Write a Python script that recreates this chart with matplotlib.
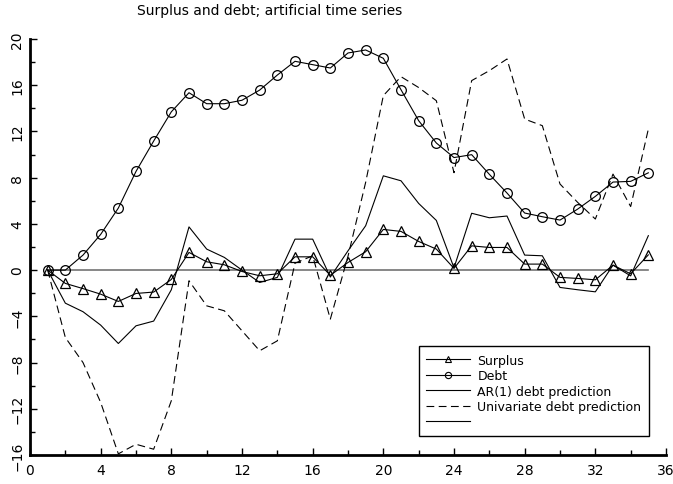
import matplotlib
matplotlib.use('Agg')
import matplotlib.pyplot as plt
from matplotlib.lines import Line2D
from matplotlib.legend_handler import HandlerLine2D
from matplotlib.ticker import MultipleLocator

# time index and series
t = list(range(1, 36))

surplus = [0, -1.15, -1.6, -2.08, -2.71, -2.02, -1.9, -0.81, 1.53, 0.72,
           0.46, -0.12, -0.49, -0.32, 1.15, 1.15, -0.45, 0.66, 1.59, 3.52,
           3.35, 2.48, 1.82, 0.15, 2.1, 1.96, 1.96, 0.52, 0.52, -0.63,
           -0.72, -0.84, 0.43, -0.32, 1.32]

debt = [0, 0, 1.3, 3.09, 5.37, 8.54, 11.17, 13.7, 15.35, 14.4,
        14.4, 14.7, 15.58, 16.88, 18.07, 17.78, 17.49, 18.79, 19.05, 18.33,
        15.61, 12.93, 11.0, 9.74, 9.99, 8.29, 6.67, 4.94, 4.62, 4.33,
        5.28, 6.38, 7.62, 7.68, 8.42]

ar1_pred = [0, -2.86, -3.6, -4.76, -6.35, -4.82, -4.41, -1.7, 3.74, 1.82,
            1.1, 0, -1.07, -0.63, 2.68, 2.68, -0.6, 1.67, 3.84, 8.16,
            7.73, 5.77, 4.3, 0.2, 4.92, 4.53, 4.68, 1.3, 1.24, -1.5,
            -1.7, -1.88, 0.43, -0.5, 2.98]

univ_pred = [0, -5.83, -8.0, -11.45, -15.9, -15.07, -15.5, -11.3, -0.92, -3.09,
             -3.52, -5.25, -6.98, -6.12, 0.6, 1.24, -4.24, 1.2, 7.6, 15.1,
             16.74, 15.8, 14.66, 8.43, 16.4, 17.26, 18.27, 13.07, 12.5, 7.45,
             5.86, 4.42, 8.31, 5.5, 12.2]

labels = ['Surplus', 'Debt', 'AR(1) debt prediction', 'Univariate debt prediction', '']


class MarkerAtStart(HandlerLine2D):
    # put the legend marker at the left end of the sample line
    def get_xdata(self, legend, xdescent, ydescent, width, height, fontsize):
        xdata = [-xdescent, -xdescent + width]
        return xdata, [-xdescent]


plt.rcParams['font.family'] = 'DejaVu Sans'

fig = plt.figure(figsize=(6.73, 4.85), dpi=100)
ax = fig.add_axes([30 / 673, 29 / 485, 636 / 673, 416 / 485])

lw = 0.8
dash = (7, 4)
# zero reference line
ax.plot([t[0], t[-1]], [0, 0], color='0.45', lw=1.2, zorder=1)
ax.plot(t, univ_pred, color='black', lw=lw, dashes=dash, zorder=2)
ax.plot(t, ar1_pred, color='black', lw=lw, zorder=2)
ax.plot(t, debt, color='black', lw=lw, marker='o', ms=7, mfc='none', mew=0.9, zorder=3)
ax.plot(t, surplus, color='black', lw=lw, marker='^', ms=7, mfc='none', mew=0.9, zorder=3)

ax.set_xlim(0, 36)
ax.set_ylim(-16, 20)
ax.xaxis.set_major_locator(MultipleLocator(4))
ax.xaxis.set_minor_locator(MultipleLocator(2))
ax.yaxis.set_major_locator(MultipleLocator(4))
ax.yaxis.set_minor_locator(MultipleLocator(2))
ax.tick_params(which='both', direction='in', width=1, color='black', labelsize=10)
ax.tick_params(which='major', length=5)
ax.tick_params(which='minor', length=3.5)
ax.tick_params(axis='x', pad=6)
ax.tick_params(axis='y', pad=4)
for lab in ax.get_yticklabels():
    lab.set_rotation(90)
    lab.set_va('center')

for side in ['top', 'right']:
    ax.spines[side].set_visible(False)
for side in ['left', 'bottom']:
    ax.spines[side].set_linewidth(2)

handles = [
    Line2D([], [], color='black', lw=lw, marker='^', ms=4.5, mfc='none', mew=0.8),
    Line2D([], [], color='black', lw=lw, marker='o', ms=4.5, mfc='none', mew=0.8),
    Line2D([], [], color='black', lw=lw),
    Line2D([], [], color='black', lw=lw, dashes=dash),
    Line2D([], [], color='black', lw=lw),
]
leg = ax.legend(handles, labels, loc='upper right', bbox_to_anchor=(0.973, 0.262),
                borderaxespad=0, fontsize=9, handlelength=3.5, handletextpad=0.6,
                labelspacing=0.2, borderpad=0.6, numpoints=1, fancybox=False,
                framealpha=1, edgecolor='black',
                handler_map={Line2D: MarkerAtStart(numpoints=1)})
leg.get_frame().set_linewidth(1)

fig.text(270 / 673, 1 - 11 / 485, 'Surplus and debt; artificial time series',
         ha='center', va='center', fontsize=10)

fig.savefig('out.png', dpi=100)
